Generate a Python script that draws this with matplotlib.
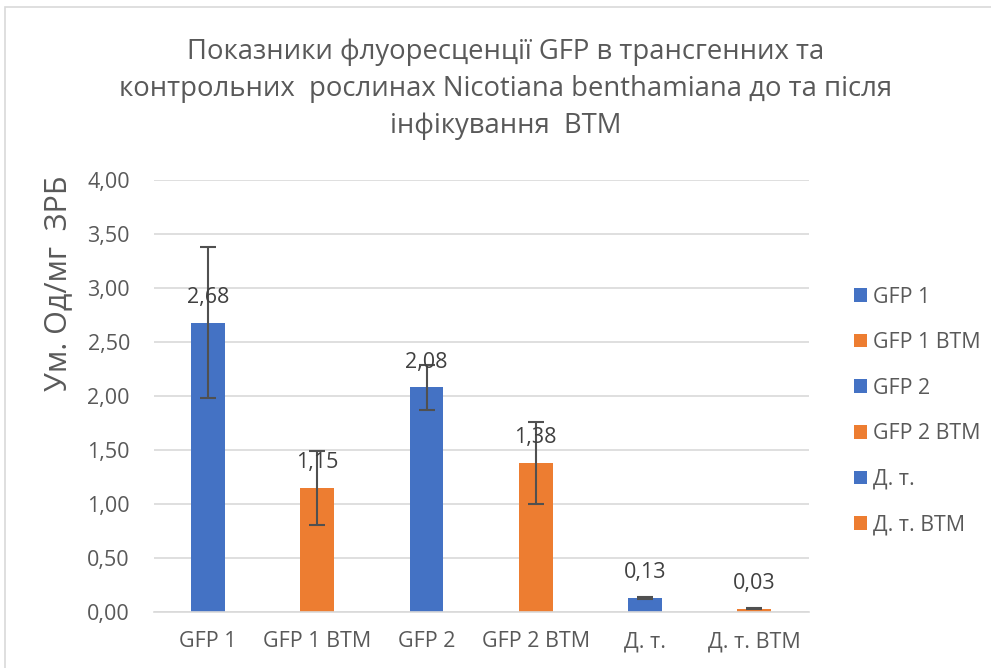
import matplotlib
matplotlib.use('Agg')
import matplotlib.pyplot as plt
from matplotlib.patches import Rectangle, Patch

plt.rcParams['font.family'] = ['Open Sans', 'DejaVu Sans']

# Data
categories = ['GFP 1', 'GFP 1 BTM', 'GFP 2', 'GFP 2 BTM', 'Д. т.', 'Д. т. BTM']
values = [2.68, 1.15, 2.08, 1.38, 0.13, 0.03]
errors = [0.70, 0.34, 0.21, 0.38, 0.005, 0.005]
yticks = [0, 0.5, 1.0, 1.5, 2.0, 2.5, 3.0, 3.5, 4.0]

blue = '#4472C4'
orange = '#ED7D31'
colors = [blue, orange] * 3
text_color = '#595959'

fig = plt.figure(figsize=(9.91, 6.68), dpi=100)
ax = fig.add_axes([0.155, 0.0838, 0.661, 0.6467])

# light border around the chart area
fig.patches.append(Rectangle((0.005, -0.05), 1.2, 1.04, transform=fig.transFigure,
                             fill=False, edgecolor='#D9D9D9', linewidth=1.2))

x = range(len(categories))
ax.bar(x, values, width=0.31, color=colors, zorder=2)
ax.errorbar(x, values, yerr=errors, fmt='none', ecolor='#505050',
            elinewidth=1.5, capsize=5.5, capthick=1.5, zorder=3)

for i, v in enumerate(values):
    ax.annotate(f'{v:.2f}'.replace('.', ','), (i, v), xytext=(0, 18),
                textcoords='offset points', ha='center', va='center',
                fontsize=15.5, color='#404040', zorder=4)

ax.set_xlim(-0.5, len(categories) - 0.5)
ax.set_ylim(0, 4)
ax.set_yticks(yticks)
ax.set_yticklabels([f'{t:.2f}'.replace('.', ',') for t in yticks])
ax.set_xticks(list(x))
ax.set_xticklabels(categories)
ax.tick_params(axis='both', length=0, colors=text_color, labelsize=15.5)
ax.tick_params(axis='x', pad=14)
ax.tick_params(axis='y', pad=17)

ax.grid(axis='y', color='#D9D9D9', linewidth=1.2, zorder=0)
ax.set_axisbelow(True)
for s in ['top', 'right', 'left']:
    ax.spines[s].set_visible(False)
ax.spines['bottom'].set_color('#D9D9D9')
ax.spines['bottom'].set_linewidth(1.2)

fig.text(58 / 991, 1 - 283 / 668, 'Ум. Од/мг  ЗРБ', rotation=90,
         ha='center', va='center', fontsize=22, color=text_color)

fig.text(0.51, 1 - 89 / 668,
         'Показники флуоресценції GFP в трансгенних та\n'
         'контрольних  рослинах Nicotiana benthamiana до та після\n'
         'інфікування  BTM',
         ha='center', va='center', fontsize=19.8, color=text_color,
         linespacing=1.42)

handles = [Patch(facecolor=c) for c in colors]
fig.legend(handles, categories, loc='center left', bbox_to_anchor=(0.842, 1 - 411 / 668),
           frameon=False, fontsize=15.4, labelcolor=text_color,
           handlelength=0.6, handleheight=0.6, handletextpad=0.3,
           labelspacing=1.15)

fig.savefig('out.png', dpi=100)
